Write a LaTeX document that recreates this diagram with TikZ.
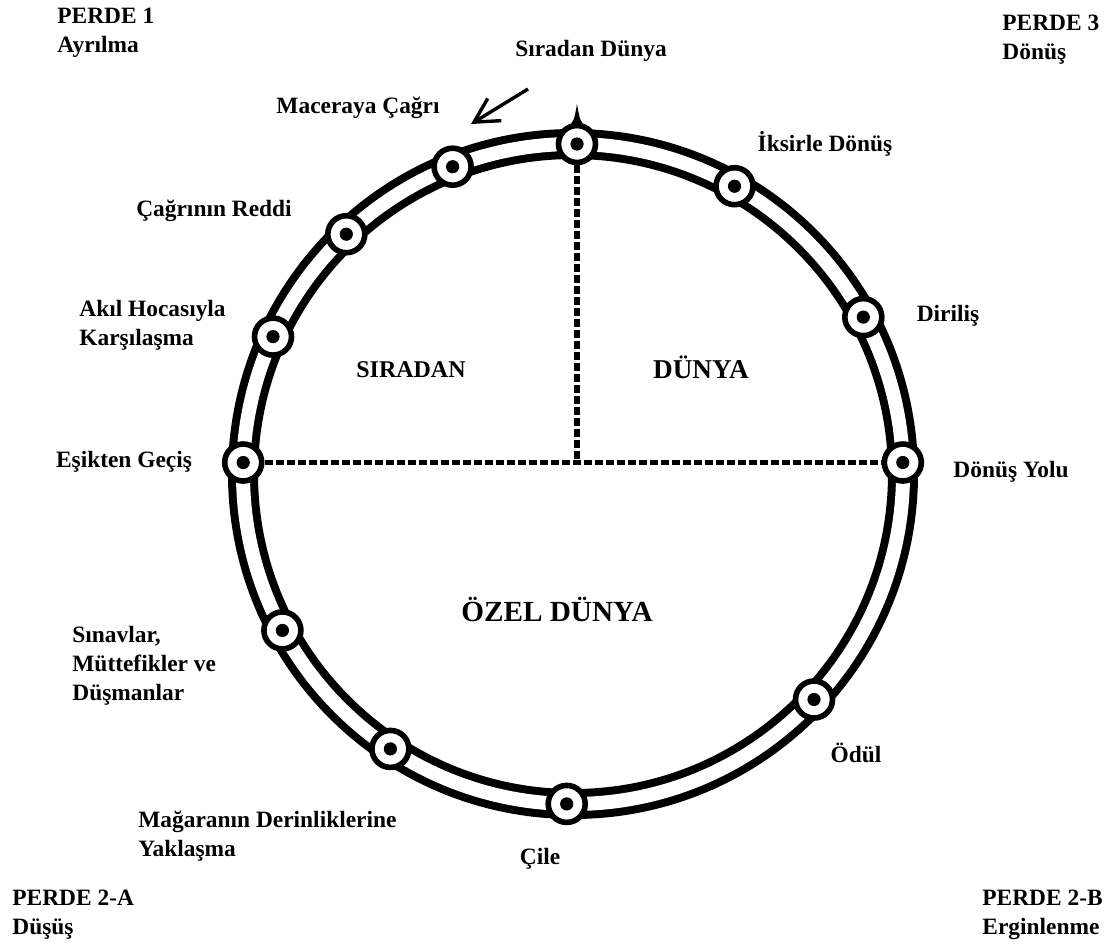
\documentclass[tikz,border=0pt]{standalone}
\usepackage{fontspec}
\setmainfont{Liberation Serif}
\usetikzlibrary{arrows.meta,calc}
\tikzset{
  ringout/.style={draw=black,line width=15pt},
  ringin/.style={draw=white,line width=7pt},
  stage/.style={circle,draw=black,line width=2.8pt,fill=white,minimum size=18.5pt,
    inner sep=0pt,path picture={\fill[black] (path picture bounding box.center) circle (3.3pt);}},
  divider/.style={draw=black,line width=2.8pt,dash pattern=on 4pt off 1.5pt},
  lbl/.style={font=\bfseries\fontsize{11.7}{14.5}\selectfont,inner sep=0pt,align=left},
  region/.style={font=\bfseries\fontsize{12}{14.5}\selectfont,inner sep=0pt},
  callarrow/.style={-{Straight Barb[length=12pt,width=13pt]},line width=1.7pt},
}
\begin{document}
\begin{tikzpicture}[x=0.5pt,y=-0.5pt]
  \useasboundingbox (0,0) rectangle (1118,949);
  \coordinate (c) at (573,474);
  % the journey ring
  \draw[ringout] (c) circle [radius=330];
  \draw[ringin] (c) circle [radius=330];
  % stages
  \node[stage] (ordinary) at (577,144) {};
  \node[stage] (call) at (452.6,166.7) {};
  \node[stage] (refusal) at (346.3,234.2) {};
  \node[stage] (mentor) at (273,336.6) {};
  \node[stage] (threshold) at (243.2,462.5) {};
  \node[stage] (tests) at (282.4,630.4) {};
  \node[stage] (cave) at (390.4,748.9) {};
  \node[stage] (ordeal) at (566.7,803.9) {};
  \node[stage] (reward) at (814,699.5) {};
  \node[stage] (roadback) at (902.8,462.5) {};
  \node[stage] (resurrect) at (863.3,317.1) {};
  \node[stage] (elixir) at (734.5,186.2) {};
  % dividers
  \draw[divider] (threshold.east) -- (roadback.west);
  \draw[divider] (ordinary.south) -- (ordinary |- threshold);
  \fill ($(ordinary)+(-10,-16)$) .. controls ($(ordinary)+(-3,-23)$) .. ($(ordinary)+(0,-40)$)
    .. controls ($(ordinary)+(3,-23)$) .. ($(ordinary)+(10,-16)$) -- cycle;
  % stage labels
  \node[lbl,anchor=base] (lordinary) at (591,56) {Sıradan Dünya};
  \node[lbl,anchor=base] (lcall) at (358,113) {Maceraya Çağrı};
  \node[lbl,anchor=base] (lelixir) at (825,151) {İksirle Dönüş};
  \node[lbl,anchor=base] (lrefusal) at (214,216) {Çağrının Reddi};
  \node[lbl,anchor=base] (lresurrect) at (948,321) {Diriliş};
  \node[lbl,anchor=base west] (lmentor) at (79,345) {Akıl Hocasıyla\\Karşılaşma};
  \node[lbl,anchor=base] (lthreshold) at (124,467) {Eşikten Geçiş};
  \node[lbl,anchor=base] (lroadback) at (1011,477) {Dönüş Yolu};
  \node[lbl,anchor=base west] (ltests) at (72,700) {Sınavlar,\\Müttefikler ve\\Düşmanlar};
  \node[lbl,anchor=base] (lreward) at (856,762) {Ödül};
  \node[lbl,anchor=base west] (lcave) at (138,856) {Mağaranın Derinliklerine\\Yaklaşma};
  \node[lbl,anchor=base] (lordeal) at (540,864) {Çile};
  % worlds
  \node[region,anchor=base] (wleft) at (411,377) {SIRADAN};
  \node[region,anchor=base,font=\bfseries\fontsize{13.6}{16}\selectfont] (wright) at (701,378) {DÜNYA};
  \node[region,anchor=base,font=\bfseries\fontsize{14.6}{17}\selectfont] (wspecial) at (557,621) {ÖZEL DÜNYA};
  % acts
  \node[lbl,anchor=base west] (act1) at (57,52) {PERDE 1\\Ayrılma};
  \node[lbl,anchor=base west] (act3) at (1002,59) {PERDE 3\\Dönüş};
  \node[lbl,anchor=base west] (act2a) at (12,934) {PERDE 2-A\\Düşüş};
  \node[lbl,anchor=base west] (act2b) at (982,934) {PERDE 2-B\\Erginlenme};
  % pointer to the call
  \coordinate (ptail) at (528,89);
  \coordinate (ptip) at (471,124);
  \draw[callarrow] (ptail) -- (ptip);
\end{tikzpicture}
\end{document}
